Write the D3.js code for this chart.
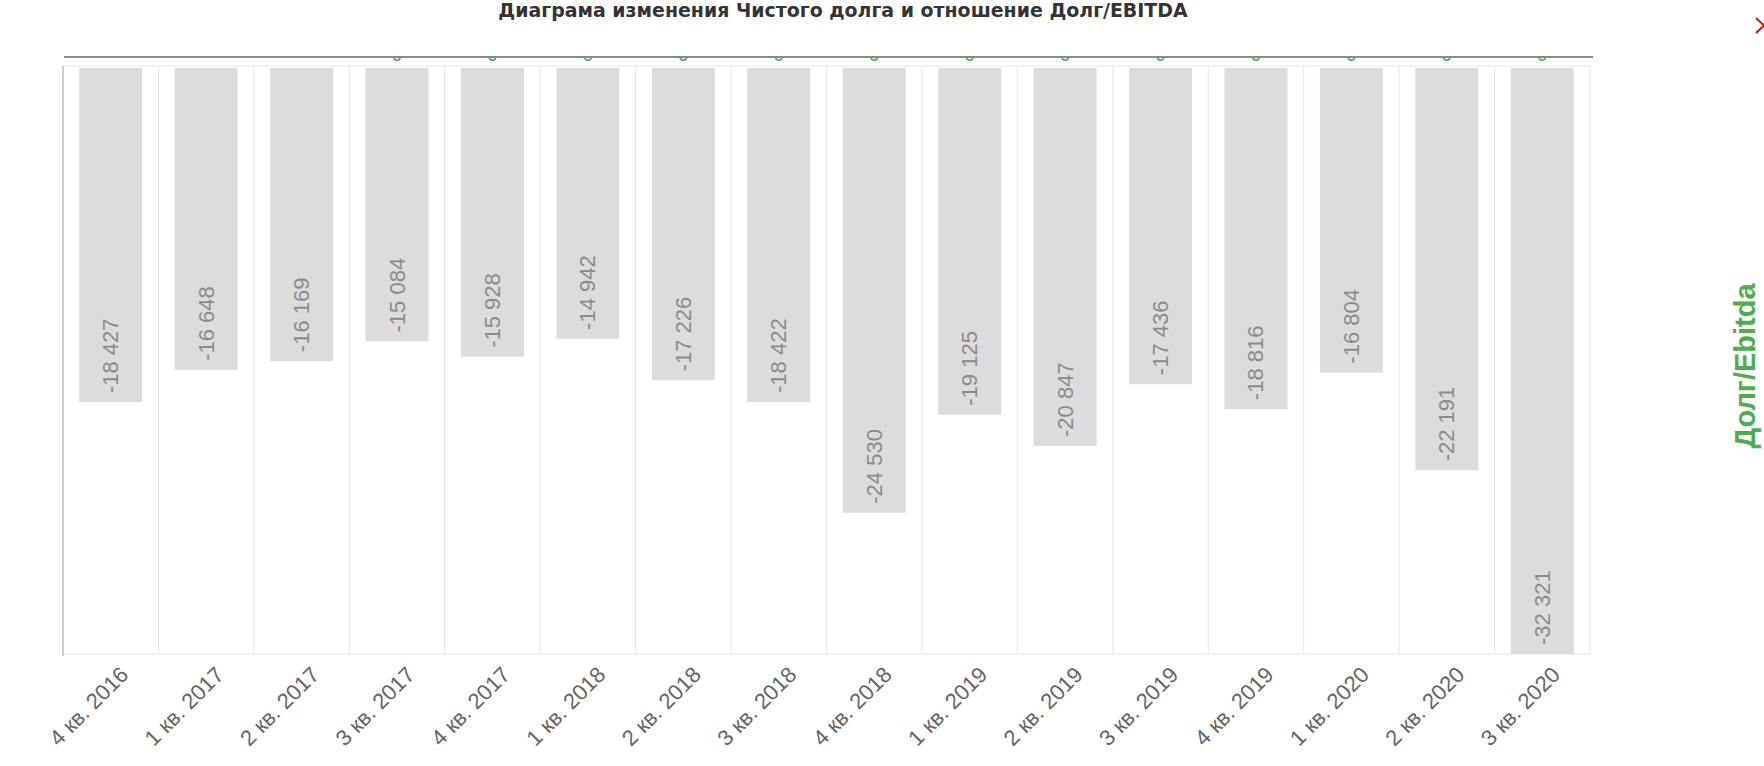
<!DOCTYPE html>
<html><head><meta charset="utf-8">
<script src="https://cdn.jsdelivr.net/npm/d3@7"></script>
<style>body{margin:0;background:#fff;}svg{display:block;}</style>
</head><body>
<svg id="chart" width="1764" height="766"></svg>
<script>
const categories = ["4 кв. 2016","1 кв. 2017","2 кв. 2017","3 кв. 2017","4 кв. 2017","1 кв. 2018","2 кв. 2018","3 кв. 2018","4 кв. 2018","1 кв. 2019","2 кв. 2019","3 кв. 2019","4 кв. 2019","1 кв. 2020","2 кв. 2020","3 кв. 2020"];
const netDebt = [-18427,-16648,-16169,-15084,-15928,-14942,-17226,-18422,-24530,-19125,-20847,-17436,-18816,-16804,-22191,-32321];
const ratioMarkers = ["3 кв. 2017","4 кв. 2017","1 кв. 2018","2 кв. 2018","3 кв. 2018","4 кв. 2018","1 кв. 2019","2 кв. 2019","3 кв. 2019","4 кв. 2019","1 кв. 2020","2 кв. 2020","3 кв. 2020"];
const titleText = "Диаграма изменения Чистого долга и отношение Долг/EBITDA";
const rightAxisTitle = "Долг/Ebitda";

const svg = d3.select("#chart");
const L = 63, R = 1590, T = 66, B = 654, lineY = 57;

const x = d3.scaleBand().domain(categories).range([L, R]).paddingInner(0.34).paddingOuter(0.17);
const y = d3.scaleLinear().domain([0, d3.min(netDebt)]).range([T + 2, B]);
const step = x.step();

// title (fit to reference width)
const title = svg.append("text").attr("x", 843).attr("y", 17).attr("text-anchor", "middle")
  .attr("font-family", "'DejaVu Sans', sans-serif").attr("font-weight", "bold")
  .attr("font-size", 16).attr("fill", "#333").text(titleText);
const tw = title.node().getComputedTextLength();
title.attr("font-size", 16 * 690 / tw);

// plot frame & grid
svg.append("rect").attr("x", L).attr("y", T).attr("width", R - L).attr("height", B - T)
  .attr("fill", "none").attr("stroke", "#e6e6e6").attr("stroke-width", 1);
svg.append("g").selectAll("line").data(categories.slice(1)).join("line")
  .attr("x1", d => x(d) - step * 0.17).attr("x2", d => x(d) - step * 0.17)
  .attr("y1", T).attr("y2", B).attr("stroke", "#e6e6e6").attr("stroke-width", 1);
svg.append("line").attr("x1", L).attr("x2", L).attr("y1", T).attr("y2", B + 2)
  .attr("stroke", "#d0d0d0").attr("stroke-width", 2);

// bars
svg.append("g").selectAll("rect").data(netDebt).join("rect")
  .attr("x", (d, i) => x(categories[i])).attr("width", x.bandwidth())
  .attr("y", y(0)).attr("height", d => y(d) - y(0)).attr("fill", "#dcdcdc");

// bar labels
const fmt = v => "-" + d3.format(",")(Math.abs(v)).replace(/,/g, " ");
svg.append("g").selectAll("text").data(netDebt).join("text")
  .attr("transform", (d, i) => `translate(${x(categories[i]) + x.bandwidth() / 2},${y(d) - 9}) rotate(-90)`)
  .attr("text-anchor", "start").attr("dominant-baseline", "central")
  .attr("font-family", "'Liberation Sans', Arial, sans-serif").attr("font-size", 22)
  .attr("fill", "#8c8c8c").text(d => fmt(d));

// x axis labels
svg.append("g").selectAll("text").data(categories).join("text")
  .attr("transform", d => `translate(${x(d) + x.bandwidth() / 2 + 19},${B + 22}) rotate(-45)`)
  .attr("text-anchor", "end")
  .attr("font-family", "'Liberation Sans', Arial, sans-serif").attr("font-size", 22)
  .attr("fill", "#666").text(d => d);

// ratio markers (clipped to below the line)
svg.append("clipPath").attr("id", "clipTop").append("rect")
  .attr("x", 0).attr("y", lineY).attr("width", 1764).attr("height", 30);
svg.append("g").attr("clip-path", "url(#clipTop)").selectAll("circle").data(ratioMarkers).join("circle")
  .attr("cx", d => x(d) + x.bandwidth() / 2).attr("cy", lineY).attr("r", 3.2)
  .attr("fill", "#fff").attr("stroke", "#4cae4c").attr("stroke-width", 1.5);
svg.append("line").attr("x1", L + 1).attr("x2", R + 3).attr("y1", lineY).attr("y2", lineY)
  .attr("stroke", "#8a8a8a").attr("stroke-width", 2);

// right axis title
svg.append("text").attr("transform", "translate(1745,366) rotate(-90)")
  .attr("text-anchor", "middle").attr("dominant-baseline", "central")
  .attr("font-family", "'Liberation Sans', Arial, sans-serif").attr("font-weight", "bold")
  .attr("font-size", 29).attr("fill", "#4cae4c").text(rightAxisTitle);

// red close icon (partially out of view)
svg.append("path").attr("d", "M1756,18 L1772,33 M1756,33 L1772,18")
  .attr("stroke", "#f00").attr("stroke-width", 2).attr("fill", "none");
</script>
</body></html>
